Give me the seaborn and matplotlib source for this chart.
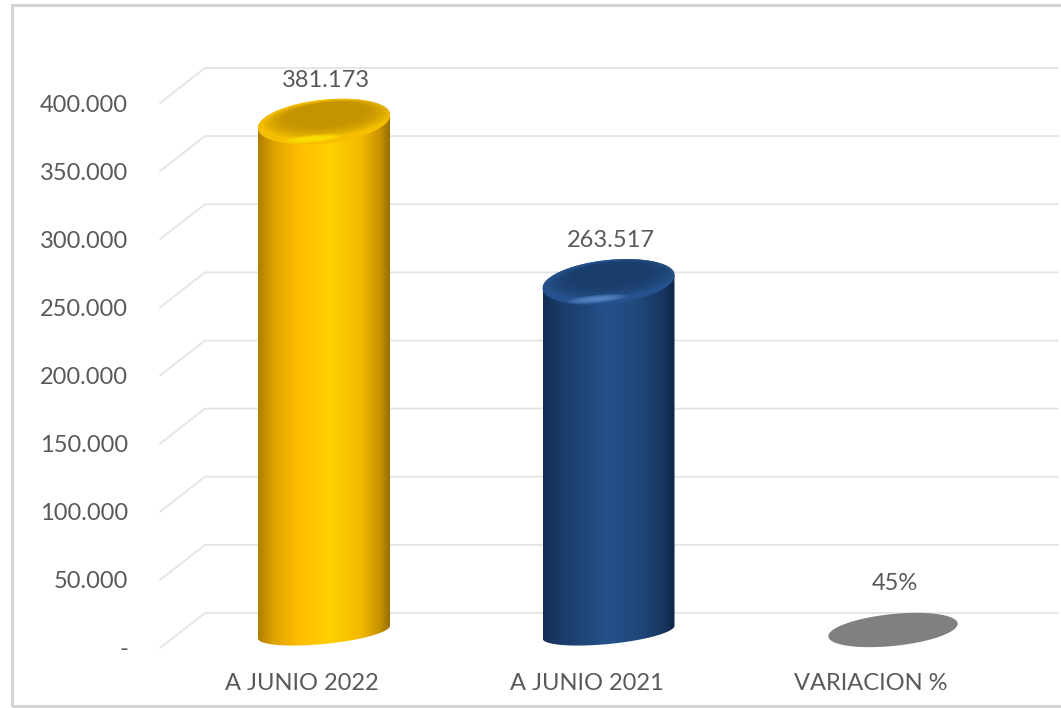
import numpy as np
import pandas as pd
import matplotlib
matplotlib.use("Agg")
import matplotlib.pyplot as plt
import seaborn as sns
from matplotlib.colors import LinearSegmentedColormap
from matplotlib.patches import Polygon, Rectangle
from matplotlib.transforms import ScaledTranslation

# Data
categories = ["A JUNIO 2022", "A JUNIO 2021", "VARIACION %"]
values = [381173, 263517, 0.45]
value_labels = ["381.173", "263.517", "45%"]
tick_values = [0, 50000, 100000, 150000, 200000, 250000, 300000, 350000, 400000]
tick_labels = ["-", "50.000", "100.000", "150.000", "200.000",
               "250.000", "300.000", "350.000", "400.000"]
bar_colors = ["#FFC000", "#1F4E79", "#808080"]

# Layout (pixels, from the top-left corner of the picture)
W, H, DPI = 1061, 708, 100
X0_PX, Y0_PX, Y400_PX, TOP_PX = 160, 648, 103, 40
CX0_PX, STEP_PX = 324, 284.5
upp = 400000 / (Y0_PX - Y400_PX)          # data units per pixel
xmin = (X0_PX - CX0_PX) / STEP_PX
xmax = (W - CX0_PX) / STEP_PX
ymax = (Y0_PX - TOP_PX) * upp
TILT = np.tan(np.radians(5.5)) * STEP_PX * upp
BASE = 16 * upp
BAR_W = 132 / STEP_PX

sns.set_style("white")
plt.rcParams["font.family"] = ["Lato", "DejaVu Sans"]
TXT = "#595959"

fig = plt.figure(figsize=(W / DPI, H / DPI), dpi=DPI)
ax = fig.add_axes([X0_PX / W, (H - Y0_PX) / H, (W - X0_PX) / W, (Y0_PX - TOP_PX) / H])

# chart border
fig.add_artist(Rectangle((12 / W, 2 / H), 1.2, (701 / H), transform=fig.transFigure,
                         fill=False, ec="#d4d4d4", lw=2.2, clip_on=False))

# 3D style gridlines: diagonal floor part + back wall part
for v in tick_values:
    ax.plot([xmin, xmin + 45 / STEP_PX, (1058 - CX0_PX) / STEP_PX],
            [v, v + 35 * upp, v + 35 * upp],
            color="#e4e4e4", lw=1.3, zorder=0, clip_on=False)

df = pd.DataFrame({"cat": categories, "val": values})
sns.barplot(data=df, x="cat", y="val", hue="cat", palette=bar_colors,
            width=BAR_W, legend=False, ax=ax, zorder=2)

cmaps = {
    0: LinearSegmentedColormap.from_list("gold", [
        (0, "#B07E00"), (0.12, "#DDA300"), (0.3, "#FFBC00"), (0.55, "#FFD000"),
        (0.78, "#F3BA00"), (0.92, "#C89400"), (1, "#977000")]),
    1: LinearSegmentedColormap.from_list("blue", [
        (0, "#142E55"), (0.15, "#1B3C6A"), (0.5, "#25518B"), (0.75, "#1F4677"),
        (0.92, "#173560"), (1, "#0F2446")]),
}
tops = {0: ("#F5BF00", "#B88A00", "#FFF200"), 1: ("#25528C", "#1A3B66", "#6A9BE0")}


def ell(cx, cy, w, h_px, t):
    x = cx + w / 2 * np.cos(t)
    y = cy + h_px * upp * np.sin(t) + TILT * (x - cx)
    return np.column_stack([x, y])


T = np.linspace(0, 2 * np.pi, 120)
grad = np.linspace(0, 1, 256)[None, :]
for p in list(ax.patches):
    cx = p.get_x() + p.get_width() / 2
    i = int(round(cx))
    v = values[i]
    p.set_visible(False)
    if v < BASE:
        ax.add_patch(Polygon(ell(cx, BASE + 2 * upp, BAR_W * 0.98, 16, T),
                             closed=True, fc=bar_colors[i], ec="none", zorder=3))
        continue
    top_c = v + 7 * upp
    body = np.vstack([ell(cx, BASE, BAR_W, 12, np.linspace(np.pi, 2 * np.pi, 80)),
                      ell(cx, top_c, BAR_W, 22, np.linspace(0, np.pi, 80))])
    clip = Polygon(body, closed=True, fc="none", ec="none")
    ax.add_patch(clip)
    im = ax.imshow(grad, cmap=cmaps[i], aspect="auto", zorder=3,
                   extent=[cx - BAR_W / 2, cx + BAR_W / 2, 0, top_c + 30 * upp])
    im.set_clip_path(clip)
    rim, inner, hi = tops[i]
    ax.add_patch(Polygon(ell(cx, top_c, BAR_W, 22, T),
                         closed=True, fc=rim, ec="none", zorder=4))
    # soft darker top face
    for k, s in enumerate(np.linspace(0.96, 0.62, 8)):
        ax.add_patch(Polygon(ell(cx + 0.01, top_c + (3 + k * 0.6) * upp, BAR_W * s, 19 * s, T),
                             closed=True, fc=inner, ec="none", zorder=5, alpha=0.17))
    # soft highlight on the front rim
    for k, s in enumerate(np.linspace(1.0, 0.4, 5)):
        ax.add_patch(Polygon(ell(cx - 0.04, top_c - 17 * upp, BAR_W * 0.45 * s, 4 * s, T),
                             closed=True, fc=hi, ec="none", zorder=6, alpha=0.2))

# value labels
for i, v in enumerate(values):
    ax.annotate(value_labels[i], (i, max(v, BASE)), xytext=(2, 48),
                textcoords="offset pixels", ha="center", va="center",
                fontsize=17, color=TXT, annotation_clip=False)

ax.set_xlim(xmin, xmax)
ax.set_ylim(0, ymax)
ax.set_yticks(tick_values, tick_labels)
ax.set_xticks(range(len(categories)), categories)
ax.tick_params(axis="y", length=0, pad=23, labelsize=17, labelcolor=TXT)
ax.tick_params(axis="x", length=0, pad=18, labelsize=17, labelcolor=TXT)
for lab in ax.get_xticklabels():
    lab.set_transform(lab.get_transform() + ScaledTranslation(-22 / DPI, 0, fig.dpi_scale_trans))
ax.set_xlabel("")
ax.set_ylabel("")
sns.despine(ax=ax, left=True, bottom=True)
ax.patch.set_alpha(0)

fig.savefig("out.png", dpi=DPI)
